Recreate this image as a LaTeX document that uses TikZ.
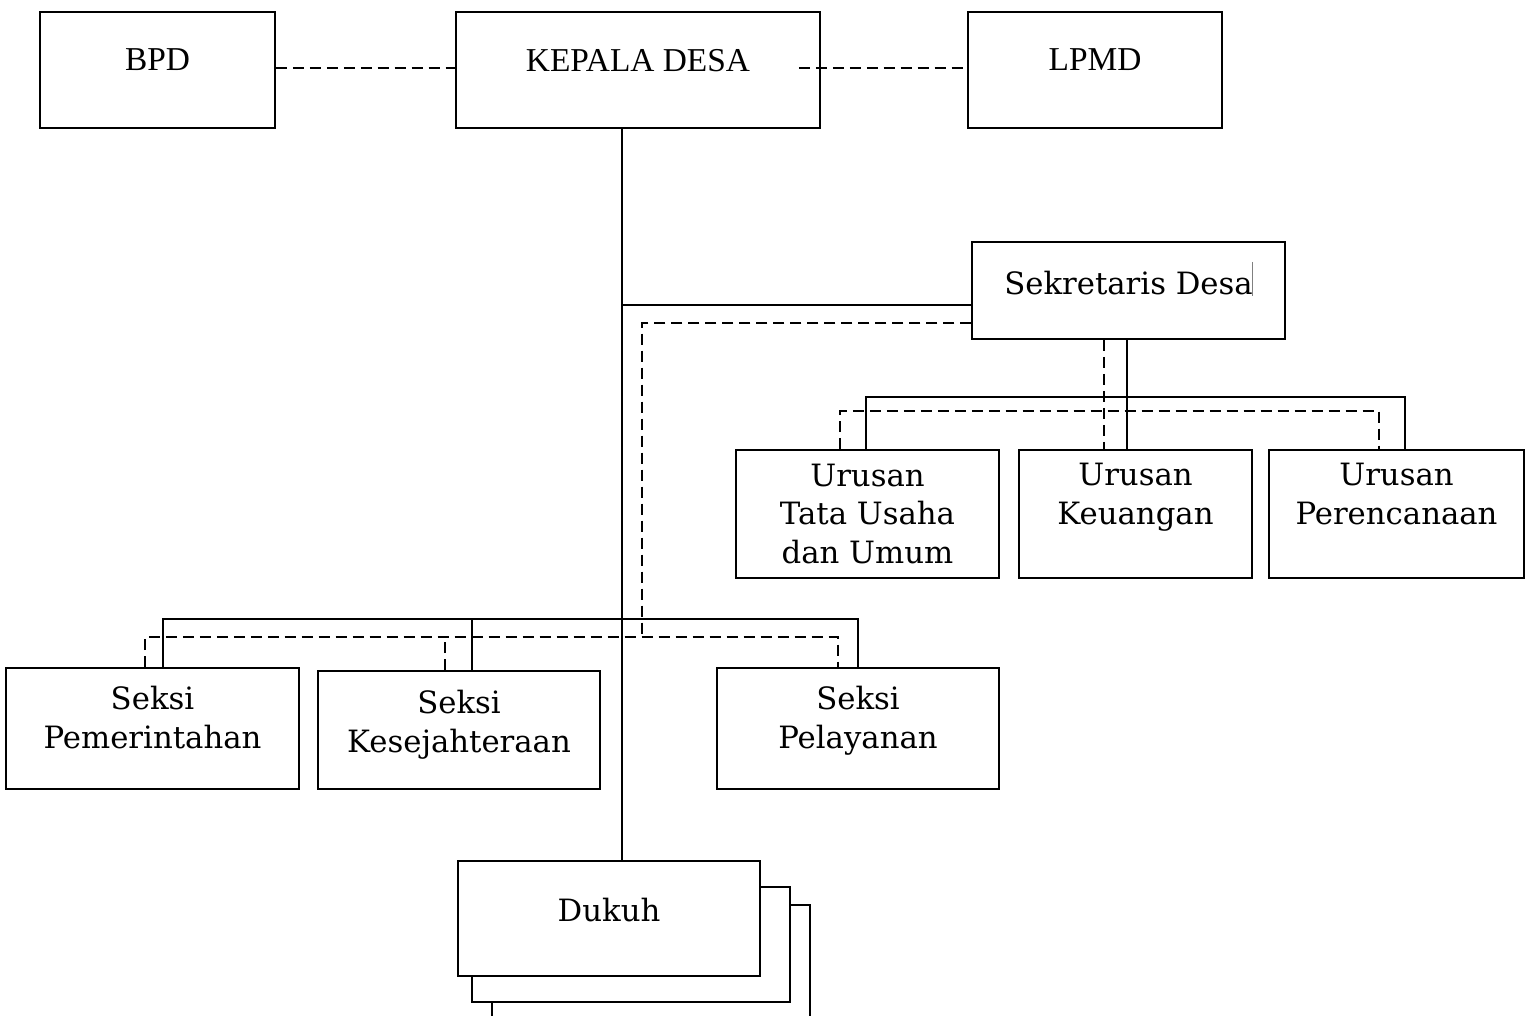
\documentclass[tikz,border=0pt]{standalone}
\usepackage{fontspec}
\setmainfont{DejaVu Serif}
\newfontfamily\headfont{Liberation Serif}
\usetikzlibrary{positioning}

\tikzset{
  unit/.style={draw, line width=0.9pt, fill=white, align=center, inner sep=0pt,
    font=\fontsize{17.5}{22}\selectfont},
  head/.style={unit, font=\headfont\fontsize{19}{23}\selectfont},
  link/.style={line width=0.9pt},
  dashlink/.style={line width=0.9pt, dash pattern=on 0.22cm off 0.12cm},
}

\begin{document}
\begin{tikzpicture}[x=0.02cm, y=-0.02cm]
    \useasboundingbox (0,0) rectangle (1529,1016);

    % top row
    \node (bpd) [head, minimum width=4.7cm, minimum height=2.32cm, text depth=0.4cm] at (157.5,70) {BPD};
    \node (kades) [head, minimum width=7.28cm, minimum height=2.32cm, text depth=0.4cm] at (638,70) {KEPALA DESA};
    \node (lpmd) [head, minimum width=5.08cm, minimum height=2.32cm, text depth=0.4cm] at (1095,70) {LPMD};

    % sekretariat
    \node (sekdes) [unit, minimum width=6.26cm, minimum height=1.94cm, text depth=0.3cm] at (1128.5,290.5) {Sekretaris Desa};
    \node (urtu) [unit, minimum width=5.26cm, minimum height=2.56cm, text depth=0.02cm] at (867.5,514) {Urusan\\Tata Usaha\\dan Umum};
    \node (urkeu) [unit, minimum width=4.66cm, minimum height=2.56cm, text depth=0.8cm] at (1135.5,514) {Urusan\\Keuangan};
    \node (urren) [unit, minimum width=5.1cm, minimum height=2.56cm, text depth=0.8cm] at (1396.5,514) {Urusan\\Perencanaan};

    % seksi
    \node (spem) [unit, minimum width=5.86cm, minimum height=2.42cm, text depth=0.44cm] at (152.5,728.5) {Seksi\\Pemerintahan};
    \node (skes) [unit, minimum width=5.64cm, minimum height=2.36cm, text depth=0.36cm] at (459,730) {Seksi\\Kesejahteraan};
    \node (spel) [unit, minimum width=5.64cm, minimum height=2.42cm, text depth=0.44cm] at (858,728.5) {Seksi\\Pelayanan};

    % dukuh (stacked)
    \node (dukuhc) [unit, minimum width=6.36cm, minimum height=2.5cm] at (651,967.5) {};
    \node (dukuhb) [unit, minimum width=6.36cm, minimum height=2.3cm] at (631,944.5) {};
    \node (dukuh) [unit, minimum width=6.04cm, minimum height=2.3cm, text depth=0.34cm] at (609,918.5) {Dukuh};

    \draw [gray, line width=0.4pt] (1252,262) -- (1252,296);

    % bus lines
    \coordinate (sbus) at (622,619);
    \coordinate (sdbus) at (642,637);
    \coordinate (ubus) at (1127,397);
    \coordinate (udbus) at (1104,411);
    \coordinate (secin) at ([yshift=-0.29cm]sekdes.west);
    \coordinate (secdash) at ([yshift=-0.65cm]sekdes.west);

    \draw [dashlink] ([yshift=0.04cm]bpd.east) -- ([yshift=0.04cm]kades.west);
    \draw [dashlink] ([xshift=-0.44cm,yshift=0.04cm]kades.east) -- ([yshift=0.04cm]lpmd.west);

    \draw [link] ([xshift=-0.32cm]kades.south) coordinate (trunk) -- (trunk |- dukuh.north);
    \draw [link] (secin) -- (secin -| trunk);
    \draw [dashlink] (secdash) -| (sdbus);

    \draw [link] ([xshift=-0.03cm]sekdes.south) -- ([xshift=-0.03cm]sekdes.south |- urkeu.north);
    \draw [link] ([xshift=-0.03cm]urtu.north) |- (ubus) -| ([xshift=0.17cm]urren.north);
    \draw [dashlink] ([xshift=-0.49cm]sekdes.south) -- ([xshift=-0.49cm]sekdes.south |- urkeu.north);
    \draw [dashlink] ([xshift=-0.55cm]urtu.north) |- (udbus) -| ([xshift=-0.35cm]urren.north);

    \draw [link] ([xshift=0.21cm]spem.north) |- (sbus) -| (spel.north);
    \draw [link] ([xshift=0.26cm]skes.north) -- ([xshift=0.26cm]skes.north |- sbus);
    \draw [dashlink] ([xshift=-0.15cm]spem.north) |- (sdbus) -| ([xshift=-0.4cm]spel.north);
    \draw [dashlink] ([xshift=-0.28cm]skes.north) -- ([xshift=-0.28cm]skes.north |- sdbus);
\end{tikzpicture}
\end{document}
